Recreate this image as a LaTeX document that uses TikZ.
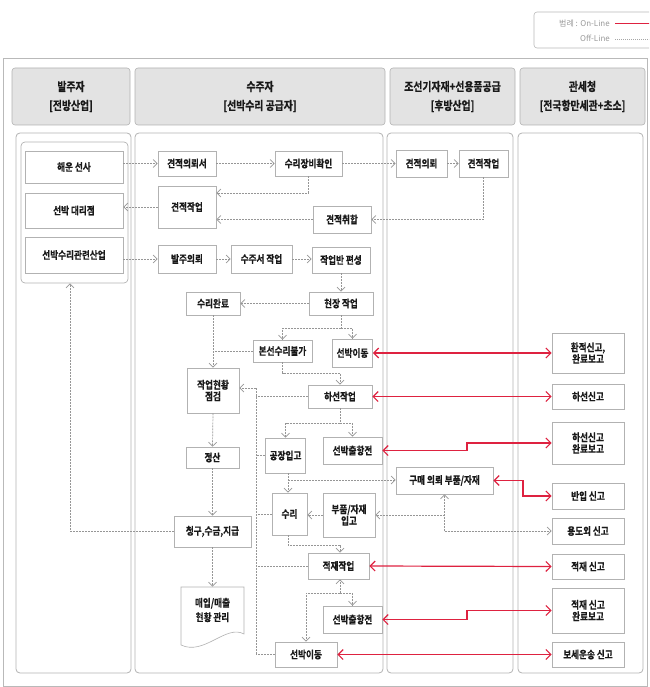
\documentclass[tikz,border=0pt]{standalone}
\usepackage{fontspec}
\newfontfamily\kr{Noto Sans CJK KR}
\newfontfamily\krb{Noto Sans CJK KR Bold}[FakeStretch=0.82,FakeBold=0.6]
\usetikzlibrary{arrows.meta}
\definecolor{onred}{RGB}{222,34,64}
\definecolor{offgray}{RGB}{150,150,150}
\newcommand\mybox[6]{\node[box,minimum width=#4,minimum height=#5] (#1) at (#2,#3) {#6};}
\begin{document}
\begin{tikzpicture}[x=1pt,y=-1pt,
  box/.style={draw=gray!60,fill=white,line width=0.6pt,font=\krb\fontsize{10.5}{11.5}\selectfont,align=center,inner sep=0pt,text=black!90},
  header/.style={draw=gray!60,fill=gray!22,rounded corners=3pt,line width=0.6pt,font=\krb\fontsize{12}{19}\selectfont,align=center,inner sep=0pt,text=black!90},
  panel/.style={draw=gray!60,line width=0.8pt,rounded corners=4pt},
  off/.style={draw=offgray,line width=0.7pt,dash pattern=on 2pt off 1pt,-{Straight Barb[length=4pt,width=8pt]}},
  offl/.style={draw=offgray,line width=0.7pt,dash pattern=on 2pt off 1pt},
  on/.style={draw=onred,line width=1.2pt,{Straight Barb[length=5pt,width=10pt]}-{Straight Barb[length=5pt,width=10pt]}},
  legend/.style={font=\kr\fontsize{8}{9}\selectfont,text=gray!80,inner sep=0pt,anchor=east}]
\useasboundingbox (0,0) rectangle (649,687);
\clip (0,0) rectangle (649,687);
% legend
\draw[gray!55,line width=0.6pt,rounded corners=3pt] (534,12) rectangle (670,48);
\node[legend] (lg1) at (610,24) {범례 : On-Line};
\node[legend] (lg2) at (610,38) {Off-Line};
\draw[onred,line width=1pt] (615,24) -- (660,24);
\draw[gray!70,line width=0.6pt,dash pattern=on 1pt off 1pt] (615,39) -- (660,39);
% outer frame
\draw[gray!55,line width=0.6pt] (3,58) rectangle (647,686);
% headers
\node[header,minimum width=118,minimum height=57] (h1) at (71,96.5) {발주자\\{[전방산업]}};
\node[header,minimum width=250,minimum height=57] (h2) at (260,96.5) {수주자\\{[선박수리 공급자]}};
\node[header,minimum width=125,minimum height=57] (h3) at (452.5,96.5) {조선기자재+선용품공급\\{[후방산업]}};
\node[header,minimum width=125,minimum height=57] (h4) at (582.5,96.5) {관세청\\{[전국항만세관+초소]}};
% panels
\draw[panel] (16,133) rectangle (131,673);
\draw[panel] (135,133) rectangle (383,673);
\draw[panel] (387,133) rectangle (513,673);
\draw[panel] (518,133) rectangle (643,673);
\node[draw=gray!60,line width=0.7pt,rounded corners=4pt,minimum width=107,minimum height=141,inner sep=0pt] (grp) at (74.5,212.5) {};
% panel 1
\mybox{hs}{74}{167}{98}{32}{해운 선사}
\mybox{dr}{74}{210.5}{98}{35}{선박 대리점}
\mybox{gr}{74}{255}{98}{36}{선박수리관련산업}
% panel 2
\mybox{a1}{187}{163.5}{58}{25}{견적의뢰서}
\mybox{a2}{308.5}{163.5}{67}{25}{수리장비확인}
\mybox{a3}{187}{207}{58}{42}{견적작업}
\mybox{a4}{342}{219.5}{58}{27}{견적취합}
\mybox{a5}{187}{259}{58}{28}{발주의뢰}
\mybox{a6}{261.5}{259}{61}{28}{수주서 작업}
\mybox{a7}{341}{260}{58}{26}{작업반 편성}
\mybox{b1}{341}{303.5}{64}{23}{현장 작업}
\mybox{b2}{213}{303.5}{54}{23}{수리완료}
\mybox{b3}{282.5}{351}{59}{22}{본선수리불가}
\mybox{b4}{352.5}{353}{40}{28}{선박이동}
\mybox{b5}{213}{390.5}{52}{45}{작업현황\\점검}
\mybox{b6}{340}{396.5}{64}{23}{하선작업}
\mybox{c1}{285.5}{455.5}{40}{35}{공장입고}
\mybox{c2}{352.5}{450.5}{59}{27}{선박출항전}
\mybox{c3}{212.5}{457.5}{53}{21}{정산}
\mybox{c4}{289.5}{514}{35}{42}{수리}
\mybox{c5}{349}{515}{52}{44}{부품/자재\\입고}
\mybox{c6}{212.5}{531.5}{77}{31}{청구,수금,지급}
\draw[gray!60,line width=0.6pt,fill=white] (181,587) -- (244,587) -- (244,634)
  .. controls (226,624) and (204,656) .. (181,645) -- cycle;
\node[box,draw=none,fill=none,minimum width=63,minimum height=46] (c7) at (212.5,610) {매입/매출\\[3pt]현황 관리};
\mybox{d1}{338.5}{566}{61}{26}{적재작업}
\mybox{d2}{352.5}{619.5}{59}{27}{선박출항전}
\mybox{d3}{306}{654.5}{62}{25}{선박이동}
% panel 3
\mybox{e1}{421.5}{163.5}{51}{27}{견적의뢰}
\mybox{e2}{483.5}{163.5}{49}{27}{견적작업}
\mybox{e3}{444.5}{480.5}{97}{27}{구매 의뢰 부품/자재}
% panel 4
\mybox{f1}{588}{353}{72}{40}{환적신고,\\완료보고}
\mybox{f2}{588}{396.5}{72}{25}{하선신고}
\mybox{f3}{588}{443}{72}{42}{하선신고\\완료보고}
\mybox{f4}{588}{496}{72}{26}{반입 신고}
\mybox{f5}{588}{531}{72}{26}{용도외 신고}
\mybox{f6}{588}{566.5}{72}{25}{적재 신고}
\mybox{f7}{588}{610.5}{72}{45}{적재 신고\\완료보고}
\mybox{f8}{588}{654.5}{72}{25}{보세운송 신고}
% off-line connectors
\draw[off] (hs.east |- a1.west) -- (a1.west);
\draw[off] (a1.east) -- (a2.west);
\draw[off] (a2.east) -- (e1.west);
\draw[off] (e1.east) -- (e2.west);
\draw[off] (a2.south) |- (a3.east |- 0,193);
\draw[off] (a4.west) -- (a3.east |- a4.west);
\draw[off] (e2.south) |- (a4.east);
\draw[off] (a3.west) -- (dr.east |- a3.west);
\draw[off] (gr.east |- a5.west) -- (a5.west);
\draw[off] (a5.east) -- (a6.west);
\draw[off] (a6.east) -- (a7.west |- a6.east);
\draw[off] (a7.south) -- (b1.north);
\draw[off] (b1.west) -- (b2.east);
\coordinate (j1) at (341,328);
\draw[offl] (b1.south) -- (j1);
\draw[off] (j1) -| (b3.north);
\draw[off] (j1) -| (b4.north);
\draw[off] (b2.south) -- (b5.north);
\draw[offl] (b3.west) -- (b2.south |- b3.west);
\draw[off] (b3.south) |- (b6.north |- 0,373) -- (b6.north);
% bus
\coordinate (bus) at (256,388);
\draw[offl] (bus) -- (bus |- d3.west);
\draw[off] (bus) -- (b5.east |- bus);
\draw[offl] (b6.west) -- (bus |- b6.west);
\draw[offl] (c1.west) -- (bus |- c1.west);
\draw[offl] (c4.west) -- (bus |- c4.west);
\draw[offl] (d1.west) -- (bus |- d1.west);
\draw[offl] (d3.west) -- (bus |- d3.west);
\draw[off] (b5.south) -- (c3.north);
\draw[off] (c3.south) -- (c6.north);
\draw[off] (c6.south) -- (c7.north);
\draw[off] (c6.west) -| (grp.south -| 70,0);
\coordinate (j2) at (340,423);
\draw[offl] (b6.south) -- (j2);
\draw[off] (j2) -| (c1.north);
\draw[off] (j2) -| (c2.north);
\draw[off] (c1.south -| 288,0) -- (c4.north -| 288,0);
\draw[off] (288,480) -- (e3.west |- 0,480);
\draw[off] (e3.south |- 0,531) -- (e3.south);
\draw[off] (e3.south |- 0,515) -- (c5.east |- 0,515);
\draw[off] (e3.south |- 0,531) -- (f5.west);
\draw[off] (c5.west) -- (c4.east |- c5.west);
\draw[off] (c4.south -| 288,0) |- (340,545) -- (d1.north -| 340,0);
\coordinate (j3) at (340,593);
\draw[off] (j3) -- (d1.south -| j3);
\draw[off] (j3) -| (d2.north);
\draw[off] (j3) -| (d3.north);
% on-line connectors
\draw[on] (b4.east) -- (f1.west);
\draw[on] (b6.east) -- (f2.west);
\draw[on] (c2.east) -| (467,0 |- f3.west) -- (f3.west);
\draw[on] (e3.east) -| (523,0 |- f4.west) -- (f4.west);
\draw[on] (d1.east) -- (f6.west);
\draw[on] (d2.east) -| (467,0 |- f7.west) -- (f7.west);
\draw[on] (d3.east) -- (f8.west);
\end{tikzpicture}
\end{document}
